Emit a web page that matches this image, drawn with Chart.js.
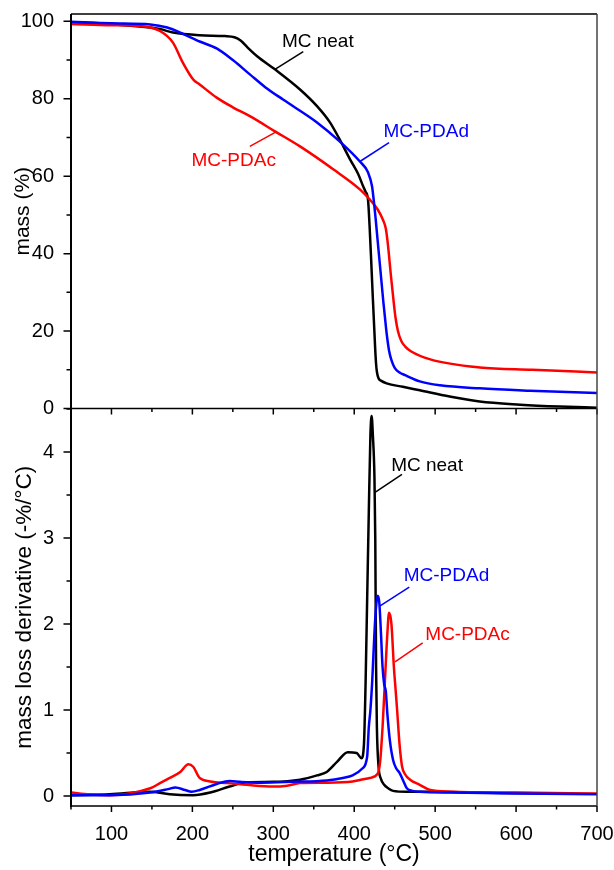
<!DOCTYPE html>
<html>
<head>
<meta charset="utf-8">
<script src="https://cdn.jsdelivr.net/npm/chart.js@4.4.0/dist/chart.umd.min.js"></script>
<style>
  html, body { margin: 0; padding: 0; background: #fff; }
  #wrap { position: relative; width: 614px; height: 870px; }
  #wrap canvas { position: absolute; left: 0; }
  #massChart { top: 0; }
  #dtgChart { top: 400px; }
</style>
</head>
<body>
<div id="wrap">
  <canvas id="massChart" width="614" height="420"></canvas>
  <canvas id="dtgChart" width="614" height="470"></canvas>
</div>
<script>
// TGA: residual mass (%) vs temperature (°C)
const neatMassT = [50, 100, 160, 176, 209, 240, 252, 260, 268, 280, 302, 333, 354, 370, 382, 395, 405, 411, 414, 417, 419, 421, 423, 425, 426, 427, 428, 430, 433, 440, 460, 481, 518, 555, 605, 654, 700];
const neatMass  = [99.5, 99.2, 98.0, 97.1, 96.4, 96.2, 95.9, 95.0, 93.3, 91.0, 87.6, 82.4, 78.1, 73.9, 69.5, 64.3, 60.5, 57.4, 56, 54, 47, 38, 28.5, 19.5, 15, 11.5, 9.5, 7.8, 7.2, 6.5, 5.6, 4.7, 3.1, 1.8, 1.0, 0.5, 0.2];

const pdadMassT = [50, 100, 148, 169, 185, 209, 230, 250, 271, 290, 312, 354, 382, 407, 417, 422, 424, 426, 428, 430, 432, 434, 436, 438, 440, 443, 446, 450, 456, 463, 481, 506, 555, 617, 700];
const pdadMass  = [99.9, 99.5, 99.2, 98.4, 97.1, 94.8, 93, 90, 86.3, 83, 79.8, 73.9, 69, 63.8, 61, 57.4, 54, 50, 45.5, 41, 36.5, 32, 27.5, 23.5, 19.5, 15, 12.5, 10.5, 9.3, 8.6, 7, 6, 5.2, 4.6, 4.0];

const pdacMassT = [50, 100, 135, 160, 176, 188, 201, 209, 230, 250, 271, 302, 333, 374, 407, 419, 429, 436, 439, 441, 443, 445, 447, 449, 451, 454, 458, 463, 470, 494, 555, 620, 700];
const pdacMass  = [99.3, 99, 98.8, 97.5, 94.5, 89.4, 85, 83.7, 80.3, 77.8, 75.5, 71.6, 67.7, 61.8, 56.6, 54, 51.4, 48.5, 46.5, 43.5, 39.5, 35, 31, 27, 23.5, 20, 17.5, 16, 14.8, 12.7, 10.6, 10, 9.3];

// DTG: mass loss derivative (-%/°C)
const neatDtgT = [50, 98, 148, 172, 201, 222, 246, 267, 300, 333, 354, 366, 379, 392, 403, 409, 412, 414, 416, 418, 420, 421.5, 423, 425, 426, 427, 428, 430, 433, 437, 442, 448, 465, 500, 530, 580, 650];
const neatDtg  = [0.01, 0.02, 0.05, 0.02, 0.01, 0.04, 0.11, 0.16, 0.165, 0.19, 0.24, 0.28, 0.4, 0.51, 0.5, 0.44, 0.6, 1.3, 2.3, 3.3, 4.2, 4.42, 4.2, 3.7, 3.0, 1.5, 0.8, 0.35, 0.2, 0.13, 0.09, 0.06, 0.05, 0.05, 0.045, 0.035, 0.03];

const pdadDtgT = [50, 98, 148, 170, 179, 191, 199, 209, 230, 246, 259, 284, 324, 366, 386, 398, 410, 416, 418, 420, 422.3, 425, 427, 429, 431, 433, 435, 437, 439, 441, 444, 448, 452, 456, 460, 465, 472, 481, 520, 600, 700];
const pdadDtg  = [0.01, 0.01, 0.04, 0.08, 0.1, 0.07, 0.05, 0.07, 0.14, 0.175, 0.165, 0.155, 0.165, 0.18, 0.21, 0.24, 0.32, 0.46, 0.8, 1.0, 1.35, 1.9, 2.2, 2.33, 2.25, 1.9, 1.5, 1.3, 1.22, 0.95, 0.65, 0.42, 0.32, 0.27, 0.19, 0.09, 0.06, 0.05, 0.04, 0.03, 0.02];

const pdacDtgT = [50, 73, 98, 148, 160, 172, 185, 195, 201, 209, 222, 243, 267, 300, 317, 333, 366, 398, 419, 429, 432, 435, 438, 441, 443, 446, 449, 451, 453, 456, 459, 463, 469, 481, 494, 520, 600, 700];
const pdacDtg  = [0.04, 0.02, 0.01, 0.09, 0.15, 0.21, 0.28, 0.37, 0.34, 0.21, 0.17, 0.15, 0.13, 0.11, 0.12, 0.15, 0.155, 0.17, 0.21, 0.26, 0.4, 0.8, 1.35, 1.9, 2.13, 2.0, 1.5, 1.25, 1.0, 0.6, 0.35, 0.25, 0.19, 0.13, 0.07, 0.05, 0.04, 0.03];

const seriesNames = ['MC-PDAd', 'MC-PDAc', 'MC neat'];
const seriesColors = ['#0000ff', '#ff0000', '#000000'];

const FONT = '"Liberation Sans", Arial, Helvetica, sans-serif';
Chart.defaults.font.family = FONT;
Chart.defaults.color = '#000';

function pts(xs, ys) {
  return xs.map((x, i) => ({ x: x, y: ys[i] }));
}

function makeDataset(i, xs, ys) {
  return {
    label: seriesNames[i],
    data: pts(xs, ys),
    borderColor: seriesColors[i],
    borderWidth: 2.5,
    pointRadius: 0,
    fill: false,
    cubicInterpolationMode: 'monotone'
  };
}

const isMultiple = (v, step) => Math.abs(v / step - Math.round(v / step)) < 1e-6;

// axis frame plus major/minor tick marks (ticks point outward)
function framePlugin(yMajor, drawTop) {
  return {
    id: 'frame',
    afterDatasetsDraw(chart) {
      const { ctx, chartArea: a, scales: { x, y } } = chart;
      ctx.save();
      ctx.strokeStyle = '#000';
      ctx.lineWidth = 1.5;
      ctx.beginPath();
      x.ticks.forEach(t => {
        const px = x.getPixelForValue(t.value);
        const len = isMultiple(t.value, 100) ? 6 : 3.5;
        ctx.moveTo(px, a.bottom);
        ctx.lineTo(px, a.bottom + len);
      });
      y.ticks.forEach(t => {
        const py = y.getPixelForValue(t.value);
        const len = isMultiple(t.value, yMajor) ? 7.5 : 4.5;
        ctx.moveTo(a.left - len, py);
        ctx.lineTo(a.left, py);
      });
      // bottom axis
      ctx.moveTo(a.left, a.bottom);
      ctx.lineTo(a.right, a.bottom);
      if (drawTop) {
        ctx.moveTo(a.left, a.top);
        ctx.lineTo(a.right, a.top);
      }
      ctx.stroke();

      // left axis
      ctx.lineWidth = 2;
      ctx.beginPath();
      ctx.moveTo(a.left, a.top);
      ctx.lineTo(a.left, a.bottom + 1);
      ctx.stroke();

      // right edge
      ctx.strokeStyle = '#444';
      ctx.lineWidth = 1.5;
      ctx.beginPath();
      ctx.moveTo(a.right, a.top);
      ctx.lineTo(a.right, a.bottom);
      ctx.stroke();
      ctx.restore();
    }
  };
}

// curve labels with short leader lines, placed in data units
function notesPlugin(notes) {
  return {
    id: 'curveNotes',
    afterDraw(chart) {
      const { ctx, scales: { x, y } } = chart;
      ctx.save();
      ctx.font = '19px ' + FONT;
      ctx.textAlign = 'center';
      ctx.textBaseline = 'middle';
      ctx.lineWidth = 1.5;
      notes.forEach(n => {
        ctx.strokeStyle = n.color;
        ctx.fillStyle = n.color;
        ctx.beginPath();
        ctx.moveTo(x.getPixelForValue(n.from[0]), y.getPixelForValue(n.from[1]));
        ctx.lineTo(x.getPixelForValue(n.to[0]), y.getPixelForValue(n.to[1]));
        ctx.stroke();
        ctx.fillText(n.text, x.getPixelForValue(n.at[0]), y.getPixelForValue(n.at[1]));
      });
      ctx.restore();
    }
  };
}

const massNotes = [
  { text: 'MC neat', color: '#000000', at: [355, 94.6], from: [302, 87.6], to: [337, 92.2] },
  { text: 'MC-PDAd', color: '#0000ff', at: [489, 71.6], from: [407, 63.8], to: [443, 68.7] },
  { text: 'MC-PDAc', color: '#ff0000', at: [251, 64.0], from: [304.6, 71.6], to: [271, 67.7] }
];

const dtgNotes = [
  { text: 'MC neat', color: '#000000', at: [490, 3.84], from: [425.7, 3.53], to: [459, 3.74] },
  { text: 'MC-PDAd', color: '#0000ff', at: [514, 2.56], from: [432, 2.21], to: [468, 2.43] },
  { text: 'MC-PDAc', color: '#ff0000', at: [540, 1.88], from: [450.4, 1.56], to: [484.6, 1.78] }
];

function xScale(showLabels, height) {
  return {
    type: 'linear',
    min: 50,
    max: 700,
    grid: { display: false },
    border: { display: false },
    ticks: {
      display: showLabels,
      stepSize: 50,
      autoSkip: false,
      maxRotation: 0,
      padding: 8,
      font: { size: 20 },
      callback: v => isMultiple(v, 100) ? v : ''
    },
    title: {
      display: showLabels,
      text: 'temperature (°C)',
      font: { size: 23 },
      padding: { top: 0, bottom: 1.2 }
    },
    // fixed axis height, no extra room for end labels
    afterFit: s => {
      s.height = height;
      s.paddingLeft = 0;
      s.paddingRight = 0;
    }
  };
}

function yFit(s) {
  s.width = 71;
  s.paddingTop = 0;
  s.paddingBottom = 0;
}

new Chart(document.getElementById('massChart'), {
  type: 'line',
  data: {
    datasets: [
      makeDataset(0, pdadMassT, pdadMass),
      makeDataset(1, pdacMassT, pdacMass),
      makeDataset(2, neatMassT, neatMass)
    ]
  },
  options: {
    responsive: false,
    animation: false,
    devicePixelRatio: 1,
    layout: { padding: { top: 14, right: 17, left: 0, bottom: 0 } },
    plugins: { legend: { display: false }, tooltip: { enabled: false } },
    scales: {
      x: xScale(false, 11.5),
      y: {
        type: 'linear',
        min: 0,
        max: 101.9,
        grid: { display: false },
        border: { display: false },
        ticks: {
          stepSize: 10,
          includeBounds: false,
          autoSkip: false,
          padding: 9,
          font: { size: 20 },
          callback: v => isMultiple(v, 20) ? v : ''
        },
        title: { display: true, text: 'mass (%)', font: { size: 21 }, padding: { top: 10.4, bottom: 0 } },
        afterFit: yFit
      }
    }
  },
  plugins: [framePlugin(20, true), notesPlugin(massNotes)]
});

new Chart(document.getElementById('dtgChart'), {
  type: 'line',
  data: {
    datasets: [
      makeDataset(0, pdadDtgT, pdadDtg),
      makeDataset(1, pdacDtgT, pdacDtg),
      makeDataset(2, neatDtgT, neatDtg)
    ]
  },
  options: {
    responsive: false,
    animation: false,
    devicePixelRatio: 1,
    layout: { padding: { top: 8.5, right: 17, left: 0, bottom: 0 } },
    plugins: { legend: { display: false }, tooltip: { enabled: false } },
    scales: {
      x: xScale(true, 64),
      y: {
        type: 'linear',
        min: -0.116,
        max: 4.506,
        grid: { display: false },
        border: { display: false },
        ticks: {
          stepSize: 0.5,
          includeBounds: false,
          autoSkip: false,
          padding: 9,
          font: { size: 20 },
          callback: v => isMultiple(v, 1) ? v : ''
        },
        title: { display: true, text: 'mass loss derivative (-%/°C)', font: { size: 22.5 }, padding: { top: 11.5, bottom: 0 } },
        afterFit: yFit
      }
    }
  },
  plugins: [framePlugin(1, false), notesPlugin(dtgNotes)]
});
</script>
</body>
</html>
